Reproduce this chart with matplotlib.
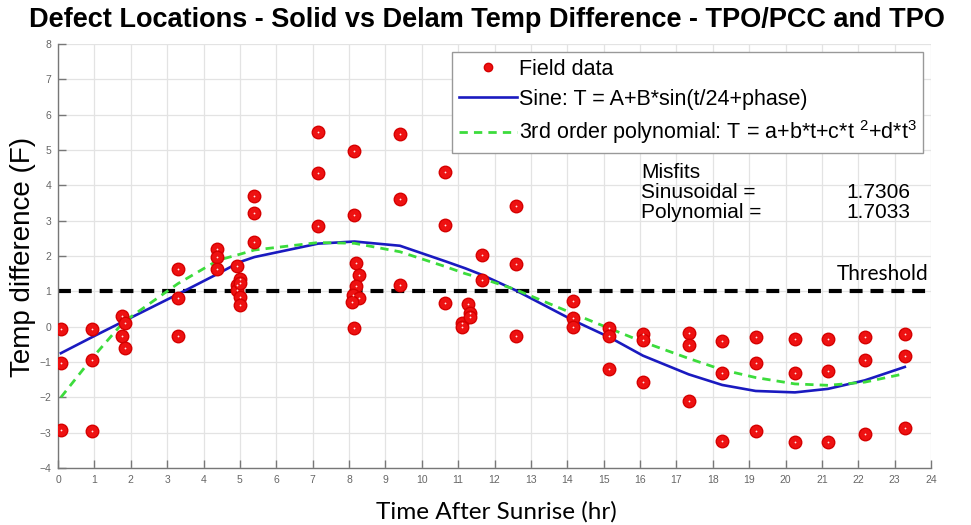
import matplotlib
matplotlib.use("Agg")
import matplotlib.pyplot as plt
from matplotlib.lines import Line2D

plt.rcParams['font.family'] = ['Liberation Sans', 'DejaVu Sans']
plt.rcParams['mathtext.fontset'] = 'custom'
plt.rcParams['mathtext.rm'] = 'Liberation Sans'
plt.rcParams['mathtext.it'] = 'Liberation Sans'

# ---- Field data (time after sunrise, temp difference) ----
field_t = [0.08, 0.08, 0.08,
           0.93, 0.93, 0.93,
           1.77, 1.77, 1.84, 1.84,
           3.30, 3.30, 3.30,
           4.38, 4.38, 4.38,
           4.93, 4.93, 4.93, 5.00, 5.00, 5.00, 5.00,
           5.39, 5.39, 5.39,
           7.15, 7.15, 7.15,
           8.14, 8.14, 8.19, 8.28, 8.19, 8.12, 8.28, 8.07, 8.14,
           9.40, 9.40, 9.40,
           10.65, 10.65, 10.65,
           11.10, 11.10, 11.28, 11.32, 11.32,
           11.65, 11.65,
           12.58, 12.58, 12.58,
           14.16, 14.16, 14.16,
           15.16, 15.16, 15.16,
           16.08, 16.08, 16.08,
           17.34, 17.34, 17.34,
           18.26, 18.26, 18.26,
           19.18, 19.18, 19.18,
           20.26, 20.26, 20.26,
           21.17, 21.17, 21.17,
           22.18, 22.18, 22.18,
           23.28, 23.28, 23.28]
field_T = [-0.08, -1.03, -2.92,
           -0.08, -0.95, -2.95,
           0.29, -0.27, 0.09, -0.59,
           1.62, 0.80, -0.27,
           2.21, 1.97, 1.62,
           1.72, 1.17, 1.05, 1.36, 1.25, 0.84, 0.61,
           3.71, 3.22, 2.41,
           5.50, 4.34, 2.84,
           4.97, 3.17, 1.80, 1.47, 1.15, 0.91, 0.82, 0.70, -0.03,
           5.44, 3.61, 1.18,
           4.38, 2.87, 0.67,
           0.10, 0.00, 0.63, 0.39, 0.26,
           2.02, 1.31,
           3.41, 1.76, -0.26,
           0.73, 0.25, 0.00,
           -0.05, -0.27, -1.19,
           -0.20, -0.39, -1.57,
           -0.17, -0.53, -2.09,
           -0.41, -1.31, -3.24,
           -0.29, -1.02, -2.96,
           -0.34, -1.30, -3.25,
           -0.36, -1.26, -3.26,
           -0.28, -0.95, -3.03,
           -0.22, -0.84, -2.87]

# ---- Fitted curves ----
fit_t = [0.08, 0.93, 1.8, 3.3, 4.4, 5.0, 5.4, 7.15, 8.15, 9.4, 10.65, 11.2,
         11.67, 12.58, 14.16, 15.16, 16.08, 17.34, 18.26, 19.18, 20.26, 21.17,
         22.18, 23.28]
sine_T = [-0.75, -0.30, 0.15, 0.92, 1.50, 1.83, 1.97, 2.35, 2.41, 2.29, 1.85,
          1.65, 1.46, 1.03, 0.18, -0.30, -0.82, -1.35, -1.65, -1.82, -1.86,
          -1.76, -1.52, -1.14]
poly_T = [-2.00, -0.90, 0.13, 1.22, 1.88, 2.05, 2.17, 2.38, 2.36, 2.12, 1.70,
          1.50, 1.36, 1.05, 0.37, -0.05, -0.43, -0.90, -1.22, -1.44, -1.62,
          -1.66, -1.57, -1.33]

threshold = 1.0
x_ticks = list(range(0, 25))
y_ticks = list(range(-4, 9))

title = "Defect Locations - Solid vs Delam Temp Difference - TPO/PCC and TPO"
legend_labels = ["Field data",
                 "Sine: T = A+B*sin(t/24+phase)",
                 r"3rd order polynomial: T = a+b*t+c*t $^{2}$+d*t$^{3}$"]
misfit_names = ["Sinusoidal =", "Polynomial ="]
misfit_values = ["1.7306", "1.7033"]

W, H = 971, 525
fig = plt.figure(figsize=(W/100, H/100), dpi=100)
ax = fig.add_axes([58/W, 1-468/H, (931-58)/W, (468-44)/H])

ax.set_xlim(0, 24)
ax.set_ylim(-4, 8)
ax.set_xticks(x_ticks)
ax.set_yticks(y_ticks)
ax.grid(True, color='#e3e3e3', linewidth=0.9)
ax.set_axisbelow(True)
for s in ['top', 'right']:
    ax.spines[s].set_visible(False)
for s in ['left', 'bottom']:
    ax.spines[s].set_color('#777777')
    ax.spines[s].set_linewidth(1.0)
ax.tick_params(direction='in', length=6, width=1.0, color='#777777',
               labelcolor='#666666', labelsize=7.5, pad=5)

# threshold
ax.plot([0, 24], [threshold, threshold], color='black', lw=3.0,
        dashes=(3.1, 1.9), zorder=2)

# curves
sine_line, = ax.plot(fit_t, sine_T, color='#1a1ac0', lw=1.9, zorder=3)
poly_line, = ax.plot(fit_t, poly_T, color='#3cdc3c', lw=2.0,
                     dashes=(3.0, 2.2), zorder=3)

# field data
ax.plot(field_t, field_T, linestyle='none', marker='o', markersize=9,
        markerfacecolor='#ee1111', markeredgecolor='#d60000',
        markeredgewidth=1.0, zorder=4)
ax.plot(field_t, field_T, linestyle='none', marker='o', markersize=1.3,
        markerfacecolor='#ffe6e6', markeredgecolor='none', zorder=5)

field_handle = Line2D([], [], linestyle='none', marker='o', markersize=6,
                      markerfacecolor='#ee1111', markeredgecolor='#d60000')
leg = ax.legend([field_handle, sine_line, poly_line], legend_labels,
                loc='upper right', bbox_to_anchor=(0.991, 0.981),
                borderaxespad=0, fontsize=15.5, frameon=True, fancybox=False,
                edgecolor='#999999', framealpha=1, handlelength=2.7,
                handletextpad=0.1, labelspacing=0.42, borderpad=0.3)
leg.get_frame().set_linewidth(1.0)

# misfits text
fig.text(641/W, 1-173/H, "Misfits", fontsize=15, va='center', ha='left')
for i, (n, v) in enumerate(zip(misfit_names, misfit_values)):
    y = 1 - (193 + 20*i)/H
    fig.text(641/W, y, n, fontsize=15, va='center', ha='left')
    fig.text(910/W, y, v, fontsize=15, va='center', ha='right')

fig.text(928/W, 1-274/H, "Threshold", fontsize=15, va='center', ha='right',
         family=['Lato', 'DejaVu Sans'])

fig.text(487/W, 1-20/H, title, fontsize=19.5, fontweight='bold',
         ha='center', va='center')
fig.text(496/W, 1-512/H, "Time After Sunrise (hr)", fontsize=17.5,
         ha='center', va='center', family=['Lato', 'DejaVu Sans'])
fig.text(23/W, 1-257/H, "Temp difference (F)", fontsize=20,
         rotation=90, ha='center', va='center')

fig.savefig("out.png", dpi=100)
